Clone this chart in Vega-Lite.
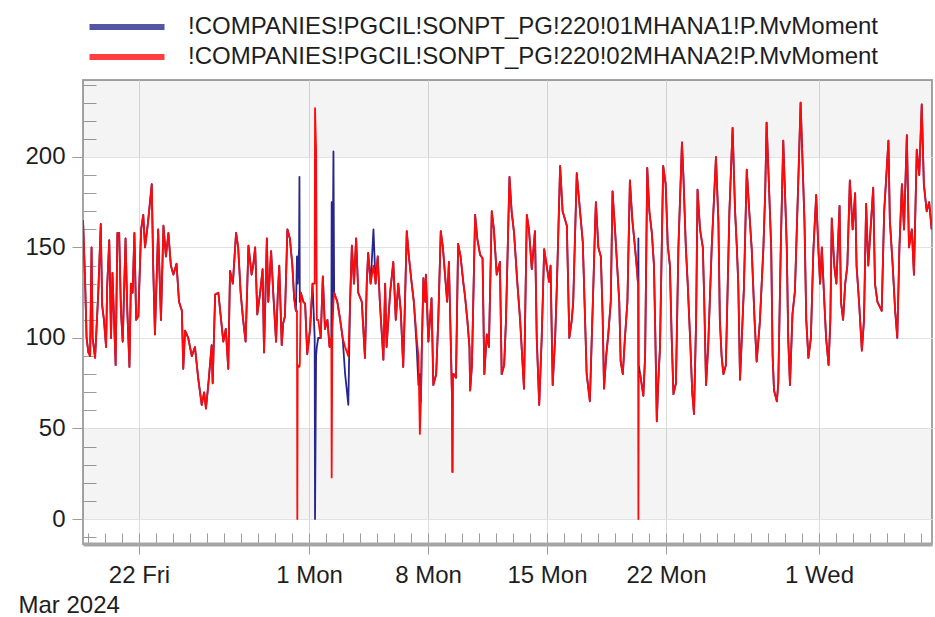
{
  "$schema": "https://vega.github.io/schema/vega-lite/v6.json",
  "width": 849,
  "height": 464,
  "autosize": "none",
  "padding": {"left": 83, "top": 80, "right": 3, "bottom": 73},
  "background": "white",
  "config": {
    "font": "Liberation Sans",
    "view": {"stroke": "#a5a5a5", "strokeWidth": 2},
    "axis": {"labelFont": "Liberation Sans", "titleFont": "Liberation Sans", "labelColor": "#1e1e1e", "titleColor": "#1e1e1e"}
  },
  "resolve": {"axis": {"x": "independent", "y": "independent"}},
  "layer": [
    {
      "data": {"values": [{"lo": 0, "hi": 50}, {"lo": 200, "hi": 260}]},
      "mark": {"type": "rect", "fill": "#000000", "fillOpacity": 0.045, "clip": true},
      "encoding": {
        "y": {
          "field": "lo", "type": "quantitative",
          "scale": {"domain": [-13.8, 242.5], "nice": false, "zero": false},
          "axis": {"orient": "left", "values": [-10, 10, 20, 30, 40, 60, 70, 80, 90, 110, 120, 130, 140, 160, 170, 180, 190, 210, 220, 230, 240],
                   "labels": false, "domain": false, "grid": false, "tickSize": -13, "tickColor": "#9c9c9c", "title": null}
        },
        "y2": {"field": "hi"}
      }
    },
    {
      "data": {"values": [{"t": "2024-03-22T00:00"}]},
      "mark": {"type": "rule", "opacity": 0},
      "encoding": {
        "x": {
          "field": "t", "type": "temporal",
          "scale": {"domain": [{"year": 2024, "month": 3, "date": 18, "hours": 16, "minutes": 56}, {"year": 2024, "month": 5, "date": 7, "hours": 15, "minutes": 30}]},
          "axis": {"orient": "bottom", "tickCount": {"interval": "day", "step": 1}, "labels": false, "domain": false, "grid": false,
                   "tickSize": -11, "tickColor": "#9c9c9c", "title": null}
        }
      }
    },
    {
      "data": {"values": [
        {"t":"2024-03-18T17:00","a":165,"b":165},{"t":"2024-03-18T20:00","a":130,"b":130},{"t":"2024-03-18T22:00","a":100,"b":100},
        {"t":"2024-03-19T00:30","a":92,"b":92},{"t":"2024-03-19T03:00","a":90,"b":90},{"t":"2024-03-19T05:00","a":150,"b":150},{"t":"2024-03-19T06:30","a":100,"b":100},{"t":"2024-03-19T10:00","a":89,"b":89},{"t":"2024-03-19T12:00","a":105,"b":105},{"t":"2024-03-19T14:30","a":125,"b":125},{"t":"2024-03-19T18:00","a":163,"b":163},{"t":"2024-03-19T20:00","a":118,"b":118},{"t":"2024-03-19T22:30","a":110,"b":110},
        {"t":"2024-03-20T01:30","a":95,"b":95},{"t":"2024-03-20T03:00","a":128,"b":128},{"t":"2024-03-20T06:00","a":154,"b":154},{"t":"2024-03-20T08:30","a":100,"b":100},{"t":"2024-03-20T10:30","a":136,"b":136},{"t":"2024-03-20T15:00","a":85,"b":85},{"t":"2024-03-20T17:30","a":158,"b":158},{"t":"2024-03-20T20:00","a":158,"b":158},{"t":"2024-03-20T22:30","a":115,"b":115},
        {"t":"2024-03-21T01:00","a":98,"b":98},{"t":"2024-03-21T05:00","a":155,"b":155},{"t":"2024-03-21T07:30","a":115,"b":115},{"t":"2024-03-21T10:30","a":84,"b":84},{"t":"2024-03-21T12:30","a":130,"b":130},{"t":"2024-03-21T15:00","a":125,"b":125},{"t":"2024-03-21T17:30","a":158,"b":158},{"t":"2024-03-21T20:00","a":110,"b":110},{"t":"2024-03-21T23:00","a":112,"b":112},
        {"t":"2024-03-22T03:00","a":160,"b":160},{"t":"2024-03-22T06:00","a":168,"b":168},{"t":"2024-03-22T08:30","a":150,"b":150},{"t":"2024-03-22T11:00","a":158,"b":158},{"t":"2024-03-22T13:00","a":165,"b":165},{"t":"2024-03-22T18:00","a":185,"b":185},{"t":"2024-03-22T20:00","a":140,"b":140},{"t":"2024-03-22T22:30","a":102,"b":102},
        {"t":"2024-03-23T03:00","a":160,"b":160},{"t":"2024-03-23T07:00","a":110,"b":110},{"t":"2024-03-23T10:30","a":162,"b":162},{"t":"2024-03-23T14:00","a":145,"b":145},{"t":"2024-03-23T17:30","a":158,"b":158},{"t":"2024-03-23T21:00","a":140,"b":140},
        {"t":"2024-03-24T00:30","a":135,"b":135},{"t":"2024-03-24T05:00","a":141,"b":141},{"t":"2024-03-24T08:30","a":120,"b":120},{"t":"2024-03-24T12:30","a":115,"b":115},{"t":"2024-03-24T14:30","a":83,"b":83},{"t":"2024-03-24T17:00","a":104,"b":104},{"t":"2024-03-24T21:30","a":100,"b":100},
        {"t":"2024-03-25T02:30","a":90,"b":90},{"t":"2024-03-25T07:00","a":95,"b":95},{"t":"2024-03-25T11:30","a":78,"b":78},{"t":"2024-03-25T16:30","a":63,"b":63},{"t":"2024-03-25T20:00","a":70,"b":70},{"t":"2024-03-25T22:30","a":61,"b":61},
        {"t":"2024-03-26T02:00","a":75,"b":75},{"t":"2024-03-26T06:30","a":96,"b":96},{"t":"2024-03-26T08:00","a":75,"b":75},{"t":"2024-03-26T11:30","a":124,"b":124},{"t":"2024-03-26T16:00","a":125,"b":125},{"t":"2024-03-26T23:00","a":98,"b":98},
        {"t":"2024-03-27T02:30","a":105,"b":105},{"t":"2024-03-27T06:00","a":83,"b":83},{"t":"2024-03-27T08:30","a":137,"b":137},{"t":"2024-03-27T12:30","a":130,"b":130},{"t":"2024-03-27T17:00","a":158,"b":158},{"t":"2024-03-27T20:00","a":150,"b":150},{"t":"2024-03-27T23:30","a":125,"b":125},
        {"t":"2024-03-28T03:00","a":110,"b":110},{"t":"2024-03-28T06:30","a":98,"b":98},{"t":"2024-03-28T10:30","a":151,"b":151},{"t":"2024-03-28T15:00","a":135,"b":135},{"t":"2024-03-28T17:30","a":141,"b":141},{"t":"2024-03-28T20:00","a":150,"b":150},{"t":"2024-03-28T23:00","a":113,"b":113},
        {"t":"2024-03-29T03:00","a":125,"b":125},{"t":"2024-03-29T06:30","a":138,"b":138},{"t":"2024-03-29T08:30","a":92,"b":92},{"t":"2024-03-29T12:30","a":155,"b":155},{"t":"2024-03-29T14:30","a":120,"b":120},{"t":"2024-03-29T18:30","a":148,"b":148},{"t":"2024-03-29T21:30","a":125,"b":125},
        {"t":"2024-03-30T01:30","a":98,"b":98},{"t":"2024-03-30T04:00","a":125,"b":125},{"t":"2024-03-30T06:00","a":140,"b":140},{"t":"2024-03-30T09:30","a":96,"b":96},{"t":"2024-03-30T11:30","a":108,"b":108},{"t":"2024-03-30T14:00","a":112,"b":112},{"t":"2024-03-30T17:30","a":160,"b":160},{"t":"2024-03-30T21:00","a":155,"b":155},
        {"t":"2024-03-31T00:30","a":140,"b":140},{"t":"2024-03-31T03:00","a":122,"b":122},{"t":"2024-03-31T05:30","a":115,"b":115},{"t":"2024-03-31T07:00","a":145,"b":115},{"t":"2024-03-31T07:30","a":140,"b":0},{"t":"2024-03-31T08:00","a":130,"b":85},{"t":"2024-03-31T10:00","a":150,"b":84},{"t":"2024-03-31T10:30","a":189,"b":84},{"t":"2024-03-31T11:00","a":120,"b":86},{"t":"2024-03-31T12:30","a":125,"b":125},{"t":"2024-03-31T16:00","a":120,"b":120},{"t":"2024-03-31T18:30","a":119,"b":119},{"t":"2024-03-31T21:30","a":91,"b":91},
        {"t":"2024-04-01T01:30","a":105,"b":105},{"t":"2024-04-01T05:00","a":130,"b":130},{"t":"2024-04-01T08:00","a":100,"b":130},{"t":"2024-04-01T08:30","a":0,"b":227},{"t":"2024-04-01T10:00","a":90,"b":204},{"t":"2024-04-01T11:00","a":95,"b":110},{"t":"2024-04-01T13:00","a":100,"b":110},{"t":"2024-04-01T16:30","a":100,"b":100},{"t":"2024-04-01T19:30","a":134,"b":134},{"t":"2024-04-01T22:30","a":105,"b":105},
        {"t":"2024-04-02T02:00","a":110,"b":110},{"t":"2024-04-02T05:00","a":95,"b":95},{"t":"2024-04-02T07:30","a":100,"b":100},{"t":"2024-04-02T08:00","a":175,"b":23},{"t":"2024-04-02T09:00","a":110,"b":105},{"t":"2024-04-02T10:30","a":203,"b":120},{"t":"2024-04-02T11:30","a":125,"b":125},{"t":"2024-04-02T16:00","a":120,"b":120},{"t":"2024-04-02T20:00","a":110,"b":110},{"t":"2024-04-02T23:30","a":100,"b":100},
        {"t":"2024-04-03T03:00","a":80,"b":95},{"t":"2024-04-03T07:30","a":63,"b":90},{"t":"2024-04-03T10:00","a":120,"b":120},{"t":"2024-04-03T12:30","a":151,"b":151},{"t":"2024-04-03T15:30","a":130,"b":130},{"t":"2024-04-03T18:30","a":155,"b":155},{"t":"2024-04-03T21:30","a":125,"b":125},
        {"t":"2024-04-04T02:30","a":120,"b":120},{"t":"2024-04-04T07:00","a":89,"b":89},{"t":"2024-04-04T09:30","a":130,"b":130},{"t":"2024-04-04T11:30","a":147,"b":147},{"t":"2024-04-04T15:00","a":130,"b":130},{"t":"2024-04-04T19:00","a":160,"b":140},{"t":"2024-04-04T22:00","a":130,"b":130},
        {"t":"2024-04-05T01:00","a":145,"b":145},{"t":"2024-04-05T04:00","a":120,"b":120},{"t":"2024-04-05T09:00","a":88,"b":88},{"t":"2024-04-05T11:30","a":130,"b":130},{"t":"2024-04-05T13:30","a":95,"b":95},{"t":"2024-04-05T18:30","a":125,"b":125},{"t":"2024-04-05T23:00","a":142,"b":142},
        {"t":"2024-04-06T02:30","a":110,"b":110},{"t":"2024-04-06T06:00","a":130,"b":130},{"t":"2024-04-06T09:30","a":115,"b":115},{"t":"2024-04-06T13:00","a":84,"b":84},{"t":"2024-04-06T15:30","a":120,"b":120},{"t":"2024-04-06T18:00","a":159,"b":159},{"t":"2024-04-06T21:00","a":145,"b":145},
        {"t":"2024-04-07T01:00","a":130,"b":130},{"t":"2024-04-07T04:00","a":120,"b":120},{"t":"2024-04-07T08:00","a":95,"b":100},{"t":"2024-04-07T10:30","a":74,"b":90},{"t":"2024-04-07T12:30","a":80,"b":47},{"t":"2024-04-07T14:00","a":65,"b":65},{"t":"2024-04-07T15:00","a":90,"b":90},{"t":"2024-04-07T17:30","a":133,"b":133},{"t":"2024-04-07T20:00","a":120,"b":120},{"t":"2024-04-07T21:00","a":135,"b":135},
        {"t":"2024-04-08T00:30","a":98,"b":98},{"t":"2024-04-08T05:00","a":122,"b":122},{"t":"2024-04-08T07:30","a":74,"b":74},{"t":"2024-04-08T11:30","a":80,"b":80},{"t":"2024-04-08T14:30","a":110,"b":110},{"t":"2024-04-08T18:00","a":159,"b":159},{"t":"2024-04-08T21:00","a":150,"b":150},
        {"t":"2024-04-09T00:00","a":135,"b":135},{"t":"2024-04-09T03:00","a":120,"b":120},{"t":"2024-04-09T05:30","a":142,"b":142},{"t":"2024-04-09T08:00","a":100,"b":100},{"t":"2024-04-09T10:00","a":65,"b":65},{"t":"2024-04-09T10:30","a":26,"b":26},{"t":"2024-04-09T11:00","a":80,"b":80},{"t":"2024-04-09T12:30","a":80,"b":80},{"t":"2024-04-09T15:30","a":78,"b":78},{"t":"2024-04-09T18:30","a":152,"b":152},{"t":"2024-04-09T22:00","a":145,"b":145},
        {"t":"2024-04-10T02:00","a":130,"b":130},{"t":"2024-04-10T04:00","a":124,"b":124},{"t":"2024-04-10T07:30","a":110,"b":110},{"t":"2024-04-10T10:30","a":95,"b":95},{"t":"2024-04-10T11:30","a":71,"b":71},{"t":"2024-04-10T14:00","a":85,"b":85},{"t":"2024-04-10T18:30","a":168,"b":168},{"t":"2024-04-10T21:30","a":155,"b":155},
        {"t":"2024-04-11T01:30","a":146,"b":146},{"t":"2024-04-11T05:00","a":144,"b":144},{"t":"2024-04-11T07:30","a":80,"b":80},{"t":"2024-04-11T11:00","a":102,"b":102},{"t":"2024-04-11T14:00","a":95,"b":95},{"t":"2024-04-11T18:00","a":170,"b":170},{"t":"2024-04-11T21:00","a":160,"b":160},
        {"t":"2024-04-12T01:00","a":135,"b":135},{"t":"2024-04-12T05:30","a":142,"b":142},{"t":"2024-04-12T08:00","a":80,"b":80},{"t":"2024-04-12T11:30","a":85,"b":85},{"t":"2024-04-12T14:00","a":109,"b":109},{"t":"2024-04-12T19:00","a":189,"b":189},{"t":"2024-04-12T22:00","a":170,"b":170},
        {"t":"2024-04-13T01:30","a":158,"b":158},{"t":"2024-04-13T06:00","a":131,"b":131},{"t":"2024-04-13T10:00","a":110,"b":110},{"t":"2024-04-13T15:30","a":72,"b":72},{"t":"2024-04-13T19:30","a":168,"b":168},{"t":"2024-04-13T22:30","a":160,"b":160},
        {"t":"2024-04-14T02:30","a":138,"b":138},{"t":"2024-04-14T07:00","a":159,"b":159},{"t":"2024-04-14T09:30","a":100,"b":100},{"t":"2024-04-14T13:00","a":63,"b":63},{"t":"2024-04-14T16:30","a":100,"b":100},{"t":"2024-04-14T20:00","a":149,"b":149},{"t":"2024-04-14T23:30","a":140,"b":140},
        {"t":"2024-04-15T03:00","a":131,"b":131},{"t":"2024-04-15T05:00","a":140,"b":140},{"t":"2024-04-15T08:00","a":74,"b":74},{"t":"2024-04-15T11:30","a":100,"b":100},{"t":"2024-04-15T14:00","a":130,"b":130},{"t":"2024-04-15T18:30","a":195,"b":195},{"t":"2024-04-15T22:00","a":170,"b":170},
        {"t":"2024-04-16T04:00","a":162,"b":162},{"t":"2024-04-16T07:30","a":100,"b":100},{"t":"2024-04-16T11:00","a":110,"b":110},{"t":"2024-04-16T13:00","a":120,"b":120},{"t":"2024-04-16T18:00","a":191,"b":191},{"t":"2024-04-16T21:30","a":175,"b":175},
        {"t":"2024-04-17T02:30","a":153,"b":153},{"t":"2024-04-17T08:00","a":80,"b":80},{"t":"2024-04-17T12:30","a":65,"b":65},{"t":"2024-04-17T17:30","a":130,"b":130},{"t":"2024-04-17T20:00","a":164,"b":164},{"t":"2024-04-17T21:00","a":175,"b":175},
        {"t":"2024-04-18T00:30","a":150,"b":150},{"t":"2024-04-18T04:00","a":145,"b":145},{"t":"2024-04-18T06:30","a":113,"b":113},{"t":"2024-04-18T08:30","a":72,"b":72},{"t":"2024-04-18T11:30","a":90,"b":90},{"t":"2024-04-18T14:30","a":102,"b":102},{"t":"2024-04-18T18:00","a":120,"b":120},{"t":"2024-04-18T20:30","a":181,"b":181},
        {"t":"2024-04-19T00:00","a":160,"b":160},{"t":"2024-04-19T03:00","a":140,"b":140},{"t":"2024-04-19T06:00","a":120,"b":120},{"t":"2024-04-19T08:00","a":87,"b":87},{"t":"2024-04-19T11:00","a":80,"b":80},{"t":"2024-04-19T14:00","a":100,"b":100},{"t":"2024-04-19T17:30","a":120,"b":120},{"t":"2024-04-19T21:00","a":187,"b":187},
        {"t":"2024-04-20T00:30","a":165,"b":165},{"t":"2024-04-20T03:30","a":153,"b":153},{"t":"2024-04-20T06:30","a":140,"b":140},{"t":"2024-04-20T08:30","a":130,"b":130},{"t":"2024-04-20T09:00","a":155,"b":0},{"t":"2024-04-20T09:30","a":85,"b":80},{"t":"2024-04-20T11:30","a":80,"b":80},{"t":"2024-04-20T16:00","a":68,"b":68},{"t":"2024-04-20T18:30","a":90,"b":90},{"t":"2024-04-20T21:30","a":194,"b":194},
        {"t":"2024-04-21T00:30","a":170,"b":170},{"t":"2024-04-21T04:00","a":158,"b":158},{"t":"2024-04-21T07:00","a":140,"b":140},{"t":"2024-04-21T09:00","a":100,"b":100},{"t":"2024-04-21T11:00","a":54,"b":54},{"t":"2024-04-21T13:00","a":75,"b":75},{"t":"2024-04-21T15:30","a":95,"b":95},{"t":"2024-04-21T20:00","a":195,"b":195},{"t":"2024-04-21T23:30","a":185,"b":185},
        {"t":"2024-04-22T02:30","a":151,"b":151},{"t":"2024-04-22T05:30","a":140,"b":140},{"t":"2024-04-22T08:00","a":100,"b":100},{"t":"2024-04-22T10:30","a":69,"b":69},{"t":"2024-04-22T14:00","a":75,"b":75},{"t":"2024-04-22T17:30","a":150,"b":150},{"t":"2024-04-22T22:30","a":208,"b":208},
        {"t":"2024-04-23T00:30","a":190,"b":190},{"t":"2024-04-23T04:00","a":150,"b":150},{"t":"2024-04-23T06:30","a":131,"b":131},{"t":"2024-04-23T10:00","a":100,"b":100},{"t":"2024-04-23T13:00","a":70,"b":70},{"t":"2024-04-23T15:30","a":58,"b":58},{"t":"2024-04-23T18:30","a":110,"b":110},{"t":"2024-04-23T20:30","a":182,"b":182},
        {"t":"2024-04-24T00:00","a":160,"b":160},{"t":"2024-04-24T04:00","a":150,"b":150},{"t":"2024-04-24T06:00","a":120,"b":120},{"t":"2024-04-24T08:30","a":74,"b":74},{"t":"2024-04-24T11:30","a":95,"b":95},{"t":"2024-04-24T16:30","a":150,"b":150},{"t":"2024-04-24T22:30","a":200,"b":200},
        {"t":"2024-04-25T02:00","a":164,"b":164},{"t":"2024-04-25T04:00","a":110,"b":110},{"t":"2024-04-25T06:30","a":90,"b":90},{"t":"2024-04-25T09:00","a":80,"b":80},{"t":"2024-04-25T12:30","a":85,"b":85},{"t":"2024-04-25T17:30","a":170,"b":170},{"t":"2024-04-25T22:00","a":216,"b":216},
        {"t":"2024-04-26T01:30","a":170,"b":170},{"t":"2024-04-26T04:00","a":150,"b":150},{"t":"2024-04-26T06:00","a":130,"b":130},{"t":"2024-04-26T08:30","a":77,"b":77},{"t":"2024-04-26T11:00","a":100,"b":100},{"t":"2024-04-26T14:00","a":128,"b":128},{"t":"2024-04-26T18:00","a":193,"b":193},{"t":"2024-04-26T21:30","a":170,"b":170},
        {"t":"2024-04-27T01:00","a":149,"b":149},{"t":"2024-04-27T05:00","a":110,"b":110},{"t":"2024-04-27T08:00","a":87,"b":87},{"t":"2024-04-27T12:30","a":109,"b":109},{"t":"2024-04-27T17:30","a":150,"b":150},{"t":"2024-04-27T20:00","a":180,"b":180},{"t":"2024-04-27T22:00","a":219,"b":219},
        {"t":"2024-04-28T02:00","a":177,"b":177},{"t":"2024-04-28T04:30","a":150,"b":150},{"t":"2024-04-28T06:30","a":90,"b":90},{"t":"2024-04-28T08:30","a":71,"b":71},{"t":"2024-04-28T12:30","a":65,"b":65},{"t":"2024-04-28T14:30","a":75,"b":75},{"t":"2024-04-28T18:00","a":150,"b":150},{"t":"2024-04-28T21:30","a":209,"b":209},
        {"t":"2024-04-29T00:00","a":180,"b":180},{"t":"2024-04-29T02:30","a":150,"b":150},{"t":"2024-04-29T04:30","a":100,"b":100},{"t":"2024-04-29T07:00","a":74,"b":74},{"t":"2024-04-29T10:30","a":113,"b":113},{"t":"2024-04-29T14:00","a":126,"b":126},{"t":"2024-04-29T19:00","a":190,"b":190},{"t":"2024-04-29T22:00","a":230,"b":230},
        {"t":"2024-04-30T00:30","a":200,"b":200},{"t":"2024-04-30T03:30","a":164,"b":164},{"t":"2024-04-30T06:00","a":110,"b":110},{"t":"2024-04-30T09:00","a":89,"b":89},{"t":"2024-04-30T12:30","a":100,"b":100},{"t":"2024-04-30T16:00","a":148,"b":148},{"t":"2024-04-30T20:00","a":179,"b":179},{"t":"2024-04-30T23:00","a":150,"b":150},
        {"t":"2024-05-01T01:30","a":130,"b":130},{"t":"2024-05-01T04:00","a":150,"b":150},{"t":"2024-05-01T07:30","a":120,"b":120},{"t":"2024-05-01T10:00","a":100,"b":100},{"t":"2024-05-01T13:30","a":85,"b":85},{"t":"2024-05-01T16:00","a":110,"b":110},{"t":"2024-05-01T18:00","a":166,"b":166},{"t":"2024-05-01T21:30","a":140,"b":140},
        {"t":"2024-05-02T00:30","a":130,"b":130},{"t":"2024-05-02T05:00","a":173,"b":173},{"t":"2024-05-02T07:00","a":120,"b":120},{"t":"2024-05-02T10:00","a":110,"b":110},{"t":"2024-05-02T13:00","a":130,"b":130},{"t":"2024-05-02T16:00","a":140,"b":140},{"t":"2024-05-02T19:30","a":187,"b":187},{"t":"2024-05-02T23:30","a":160,"b":160},
        {"t":"2024-05-03T03:00","a":180,"b":180},{"t":"2024-05-03T05:00","a":140,"b":140},{"t":"2024-05-03T08:30","a":120,"b":120},{"t":"2024-05-03T12:30","a":93,"b":93},{"t":"2024-05-03T15:30","a":110,"b":110},{"t":"2024-05-03T18:30","a":174,"b":174},{"t":"2024-05-03T21:30","a":140,"b":140},
        {"t":"2024-05-04T04:30","a":183,"b":183},{"t":"2024-05-04T07:00","a":130,"b":130},{"t":"2024-05-04T10:30","a":120,"b":120},{"t":"2024-05-04T16:30","a":115,"b":115},{"t":"2024-05-04T20:00","a":170,"b":170},
        {"t":"2024-05-05T02:00","a":209,"b":209},{"t":"2024-05-05T04:00","a":165,"b":165},{"t":"2024-05-05T08:00","a":140,"b":140},{"t":"2024-05-05T11:30","a":115,"b":115},{"t":"2024-05-05T14:30","a":100,"b":100},{"t":"2024-05-05T17:30","a":150,"b":150},{"t":"2024-05-05T21:00","a":185,"b":185},
        {"t":"2024-05-06T00:00","a":160,"b":160},{"t":"2024-05-06T04:00","a":212,"b":212},{"t":"2024-05-06T07:00","a":150,"b":150},{"t":"2024-05-06T11:00","a":160,"b":160},{"t":"2024-05-06T14:00","a":135,"b":135},{"t":"2024-05-06T18:00","a":204,"b":204},{"t":"2024-05-06T21:30","a":190,"b":190},
        {"t":"2024-05-07T01:00","a":229,"b":229},{"t":"2024-05-07T04:00","a":185,"b":185},{"t":"2024-05-07T08:00","a":170,"b":170},{"t":"2024-05-07T11:30","a":175,"b":175},{"t":"2024-05-07T15:00","a":160,"b":160}
      ]},
      "transform": [{"fold": ["a", "b"], "as": ["s", "v"]}],
      "mark": {"type": "line", "strokeWidth": 1.8, "strokeJoin": "round", "clip": true},
      "encoding": {
        "x": {
          "field": "t", "type": "temporal",
          "scale": {"domain": [{"year": 2024, "month": 3, "date": 18, "hours": 16, "minutes": 56}, {"year": 2024, "month": 5, "date": 7, "hours": 15, "minutes": 30}]},
          "axis": {
            "orient": "bottom",
            "values": [{"year": 2024, "month": 3, "date": 22}, {"year": 2024, "month": 4, "date": 1}, {"year": 2024, "month": 4, "date": 8}, {"year": 2024, "month": 4, "date": 15}, {"year": 2024, "month": 4, "date": 22}, {"year": 2024, "month": 5, "date": 1}],
            "format": "%-d %a", "labelFontSize": 24, "labelBaseline": "alphabetic", "labelPadding": 28, "labelAngle": 0,
            "tickSize": 10, "tickColor": "#9c9c9c", "domainColor": "#a5a5a5", "domainWidth": 4,
            "grid": true, "gridColor": "#dcdcdc", "gridWidth": 1,
            "title": "Mar 2024", "titleFontSize": 24, "titleFontWeight": "normal", "titleAlign": "left", "titleBaseline": "alphabetic", "titleX": -65, "titleY": 68
          }
        },
        "y": {
          "field": "v", "type": "quantitative",
          "scale": {"domain": [-13.8, 242.5], "nice": false, "zero": false},
          "axis": {"orient": "left", "values": [0, 50, 100, 150, 200], "labelFontSize": 24, "labelPadding": 7, "tickSize": 11, "tickColor": "#9c9c9c",
                   "domain": false, "grid": true, "gridColor": "#e2e2e2", "title": null}
        },
        "color": {
          "field": "s", "type": "nominal",
          "scale": {"domain": ["a", "b"], "range": ["#26268c", "#ff0a0a"]},
          "legend": {
            "orient": "none", "legendX": 32, "legendY": -65, "direction": "vertical", "title": null, "padding": 0,
            "symbolType": "M-5,0H5", "symbolSize": 225, "symbolStrokeWidth": 6, "symbolOffset": 0, "symbolOpacity": 0.78,
            "labelFont": "Liberation Sans", "labelFontSize": 24, "labelColor": "#1e1e1e", "labelLimit": 1200, "labelOffset": 49, "rowPadding": 6,
            "labelExpr": "datum.value === 'a' ? '!COMPANIES!PGCIL!SONPT_PG!220!01MHANA1!P.MvMoment' : '!COMPANIES!PGCIL!SONPT_PG!220!02MHANA2!P.MvMoment'"
          }
        }
      }
    }
  ]
}
